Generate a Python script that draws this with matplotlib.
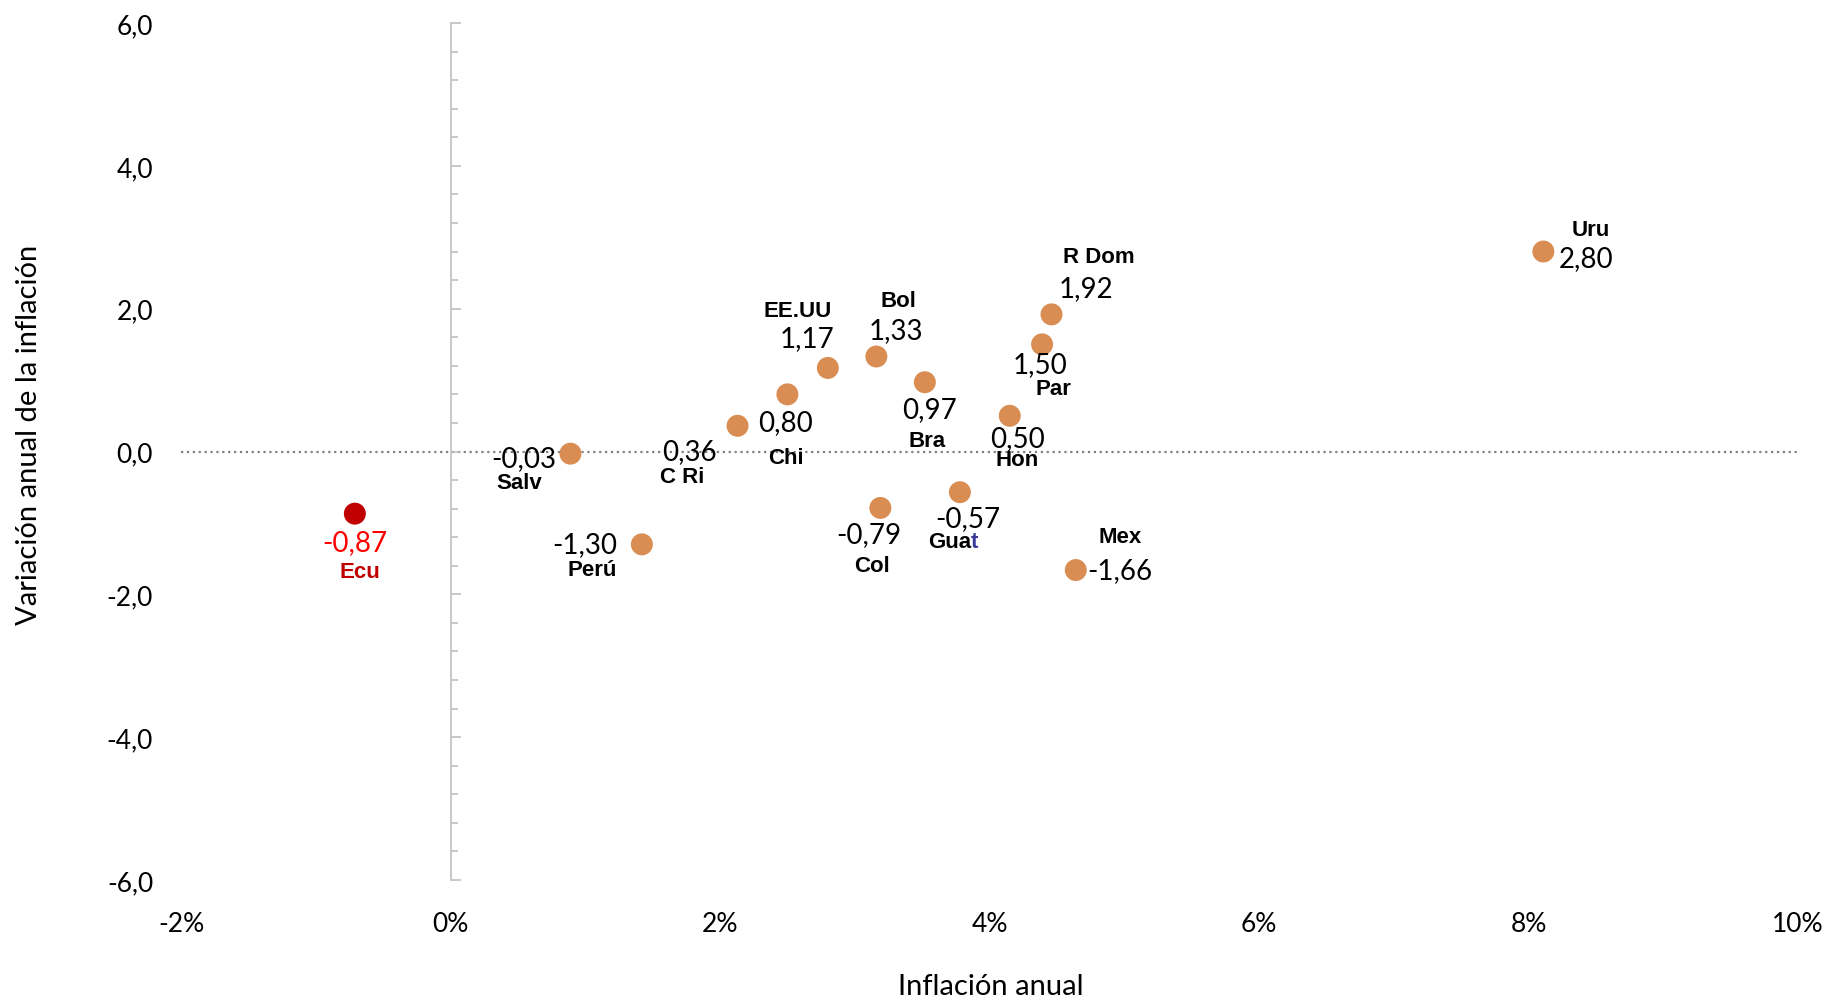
import matplotlib
matplotlib.use("Agg")
import matplotlib.pyplot as plt
from matplotlib.ticker import FuncFormatter, MultipleLocator, FixedLocator

# inflacion anual (%) y variacion anual de la inflacion (pp)
countries = ["Ecu", "Salv", "Perú", "C Ri", "Chi", "EE.UU", "Bol", "Bra",
             "Col", "Guat", "Hon", "Par", "R Dom", "Mex", "Uru"]
inflation = [-0.71, 0.89, 1.42, 2.13, 2.50, 2.80, 3.16, 3.52,
             3.19, 3.78, 4.15, 4.39, 4.46, 4.64, 8.11]
variation = [-0.87, -0.03, -1.30, 0.36, 0.80, 1.17, 1.33, 0.97,
             -0.79, -0.57, 0.50, 1.50, 1.92, -1.66, 2.80]
y_ticks = [-6, -4, -2, 0, 2, 4, 6]
x_ticks = [-2, 0, 2, 4, 6, 8, 10]

# label offsets in pixels: (value dx, dy, ha), (name dx, dy, ha)
value_pos = [(0, -28, "center"), (-14, -4, "right"), (-25, 0, "right"), (-48, -25, "center"),
             (-2, -28, "center"), (-21, 30, "center"), (20, 26, "center"), (5, -27, "center"),
             (-12, -26, "center"), (8, -26, "center"), (8, -22, "center"), (-2, -20, "center"),
             (34, 26, "center"), (11, 0, "left"), (15, -7, "left")]
name_pos = [(5, -58, "center"), (-51, -29, "center"), (-25, -25, "right"), (-55, -51, "center"),
            (-1, -63, "center"), (-30, 57, "center"), (22, 56, "center"), (2, -58, "center"),
            (-8, -58, "center"), (2, -49, "center"), (7, -44, "center"), (11, -44, "center"),
            (47, 58, "center"), (44, 34, "center"), (47, 22, "center")]

orange = "#D98D52"
dark_red = "#C00000"
num_font = ["Lato", "DejaVu Sans"]
name_font = ["Liberation Sans", "DejaVu Sans"]

fig = plt.figure(figsize=(18.34, 10.03), dpi=100)
ax = fig.add_axes([0.0987, 0.1216, 0.8817, 0.8545])

colors = [dark_red if c == "Ecu" else orange for c in countries]
ax.scatter(inflation, variation, s=250, c=colors, zorder=3, linewidths=0)

ax.axhline(0, color="#808080", ls=":", lw=1.6, zorder=1)

for i, c in enumerate(countries):
    vx, vy, vha = value_pos[i]
    nx, ny, nha = name_pos[i]
    val = f"{variation[i]:.2f}".replace(".", ",")
    vcol = "#FF0000" if c == "Ecu" else "black"
    ncol = dark_red if c == "Ecu" else "black"
    ax.annotate(val, (inflation[i], variation[i]), xytext=(vx, vy), textcoords="offset pixels",
                ha=vha, va="center", fontsize=20, color=vcol, family=num_font)
    if c == "Guat":
        # la "t" aparece en azul en el original
        ax.annotate("Gua", (inflation[i], variation[i]), xytext=(nx + 9, ny), textcoords="offset pixels",
                    ha="right", va="center", fontsize=16, fontweight="bold", color="black", family=name_font)
        ax.annotate("t", (inflation[i], variation[i]), xytext=(nx + 9, ny), textcoords="offset pixels",
                    ha="left", va="center", fontsize=16, fontweight="bold", color="#3A3A9A", family=name_font)
    else:
        ax.annotate(c, (inflation[i], variation[i]), xytext=(nx, ny), textcoords="offset pixels",
                    ha=nha, va="center", fontsize=16, fontweight="bold", color=ncol, family=name_font)

ax.set_xlim(-2, 10)
ax.set_ylim(-6, 6)

# eje vertical en x=0 con marcas hacia la derecha
for s in ["top", "right", "bottom"]:
    ax.spines[s].set_visible(False)
ax.spines["left"].set_position(("data", 0))
ax.spines["left"].set_color("#BFBFBF")
ax.spines["left"].set_linewidth(1.2)
ax.yaxis.set_major_locator(FixedLocator(y_ticks))
ax.yaxis.set_minor_locator(MultipleLocator(0.4))
ax.tick_params(axis="y", which="major", direction="in", length=7, width=1.2, color="#BFBFBF", labelleft=False)
ax.tick_params(axis="y", which="minor", direction="in", length=5, width=1.2, color="#BFBFBF")

ax.xaxis.set_major_locator(FixedLocator(x_ticks))
ax.xaxis.set_major_formatter(FuncFormatter(lambda v, p: f"{v:.0f}%"))
ax.tick_params(axis="x", length=0, pad=22, labelsize=19)
for t in ax.get_xticklabels():
    t.set_family(num_font)

# etiquetas del eje y en el borde izquierdo
sec = ax.secondary_yaxis("left")
sec.spines["left"].set_visible(False)
sec.yaxis.set_major_locator(FixedLocator(y_ticks))
sec.yaxis.set_major_formatter(FuncFormatter(lambda v, p: f"{v:.1f}".replace(".", ",")))
sec.tick_params(axis="y", length=0, pad=20, labelsize=19)
for t in sec.get_yticklabels():
    t.set_family(num_font)

fig.text(0.54, 0.016, "Inflación anual", ha="center", va="center", fontsize=21, family=num_font)
fig.text(0.016, 0.566, "Variación anual de la inflación", ha="center", va="center",
         rotation=90, fontsize=21, family=num_font)

fig.savefig("out.png", dpi=100)
